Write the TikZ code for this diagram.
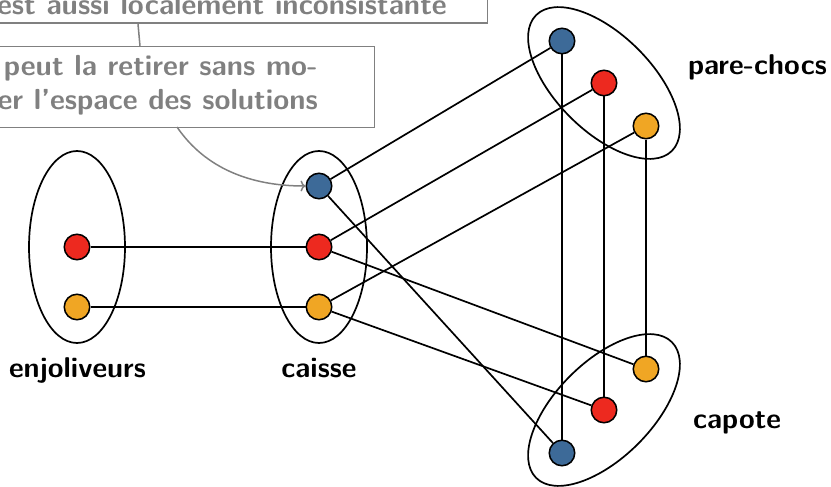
\documentclass[tikz,border=0pt]{standalone}
\usetikzlibrary{shapes.geometric,arrows.meta}
\definecolor{nblue}{RGB}{61,106,152}
\definecolor{nred}{RGB}{237,41,31}
\definecolor{norange}{RGB}{240,166,36}
\definecolor{callgray}{RGB}{128,128,128}
\tikzset{
  dot/.style={circle, draw=black, line width=1.5pt, minimum size=25.5pt, inner sep=0pt},
  group/.style={ellipse, draw=black, line width=1.7pt, minimum width=96pt, minimum height=192pt, inner sep=0pt},
  link/.style={draw=black, line width=1.7pt},
  grouplabel/.style={font=\sffamily\bfseries\fontsize{28.6}{32}\selectfont, text=black, inner sep=0pt},
  callbox/.style={draw=callgray, line width=1.5pt, rectangle, inner sep=0pt},
  calltext/.style={font=\sffamily\bfseries\fontsize{29}{34}\selectfont, text=callgray, inner sep=0pt},
  callline/.style={draw=callgray, line width=1.5pt}
}
\begin{document}
\begin{tikzpicture}[x=1pt,y=-1pt]
\useasboundingbox (0,0) rectangle (831,487);
\clip (0,0) rectangle (831,487);

% variable domains
\node[group] (genj) at (77,247) {};
\node[group] (gcai) at (319,247) {};
\node[group, rotate=45] (gpar) at (604,83) {};
\node[group, rotate=-45] (gcap) at (604,410) {};

% values
\node[dot, fill=nred]    (e2) at (77,247) {};
\node[dot, fill=norange] (e3) at (77,307) {};

\node[dot, fill=nblue]   (c1) at (319,186) {};
\node[dot, fill=nred]    (c2) at (319,247) {};
\node[dot, fill=norange] (c3) at (319,307) {};

\node[dot, fill=nblue]   (p1) at (562,41) {};
\node[dot, fill=nred]    (p2) at (604,83) {};
\node[dot, fill=norange] (p3) at (646,126) {};

\node[dot, fill=norange] (k3) at (646,369) {};
\node[dot, fill=nred]    (k2) at (604,410) {};
\node[dot, fill=nblue]   (k1) at (562,453) {};

% compatible pairs
\draw[link] (e2) -- (c2);
\draw[link] (e3) -- (c3);
\draw[link] (c1) -- (p1);
\draw[link] (c2) -- (p2);
\draw[link] (c3) -- (p3);
\draw[link] (c1) -- (k1);
\draw[link] (c2) -- (k3);
\draw[link] (c3) -- (k2);
\draw[link] (p1) -- (k1);
\draw[link] (p2) -- (k2);
\draw[link] (p3) -- (k3);

% domain names
\node[grouplabel, anchor=base] (lenj) at (77.5,377) {enjoliveurs};
\node[grouplabel, anchor=base] (lcai) at (319,377) {caisse};
\node[grouplabel, anchor=base west] (lpar) at (688,75) {pare-chocs};
\node[grouplabel, anchor=base west] (lcap) at (693,428) {capote};

% remarks
\node[callbox, anchor=south east, minimum width=520pt, minimum height=60pt] (box1) at (488,24) {};
\node[calltext, anchor=base east] (t1) at (447,15) {est aussi localement inconsistante};
\node[callbox, anchor=north east, minimum width=400pt, minimum height=81pt] (box2) at (375,46) {};
\node[calltext, anchor=base east, align=right] (t2) at (318,110) {peut la retirer sans mo-\\er l'espace des solutions};

\coordinate (b1out) at (138,24);
\coordinate (b2in) at (140,46);
\coordinate (b2out) at (177,127);
\draw[callline] (b1out) -- (b2in);
\draw[callline, -{To[length=5pt,width=11pt]}] (b2out) .. controls (205,168) and (250,186) .. (c1.west);
\end{tikzpicture}
\end{document}
